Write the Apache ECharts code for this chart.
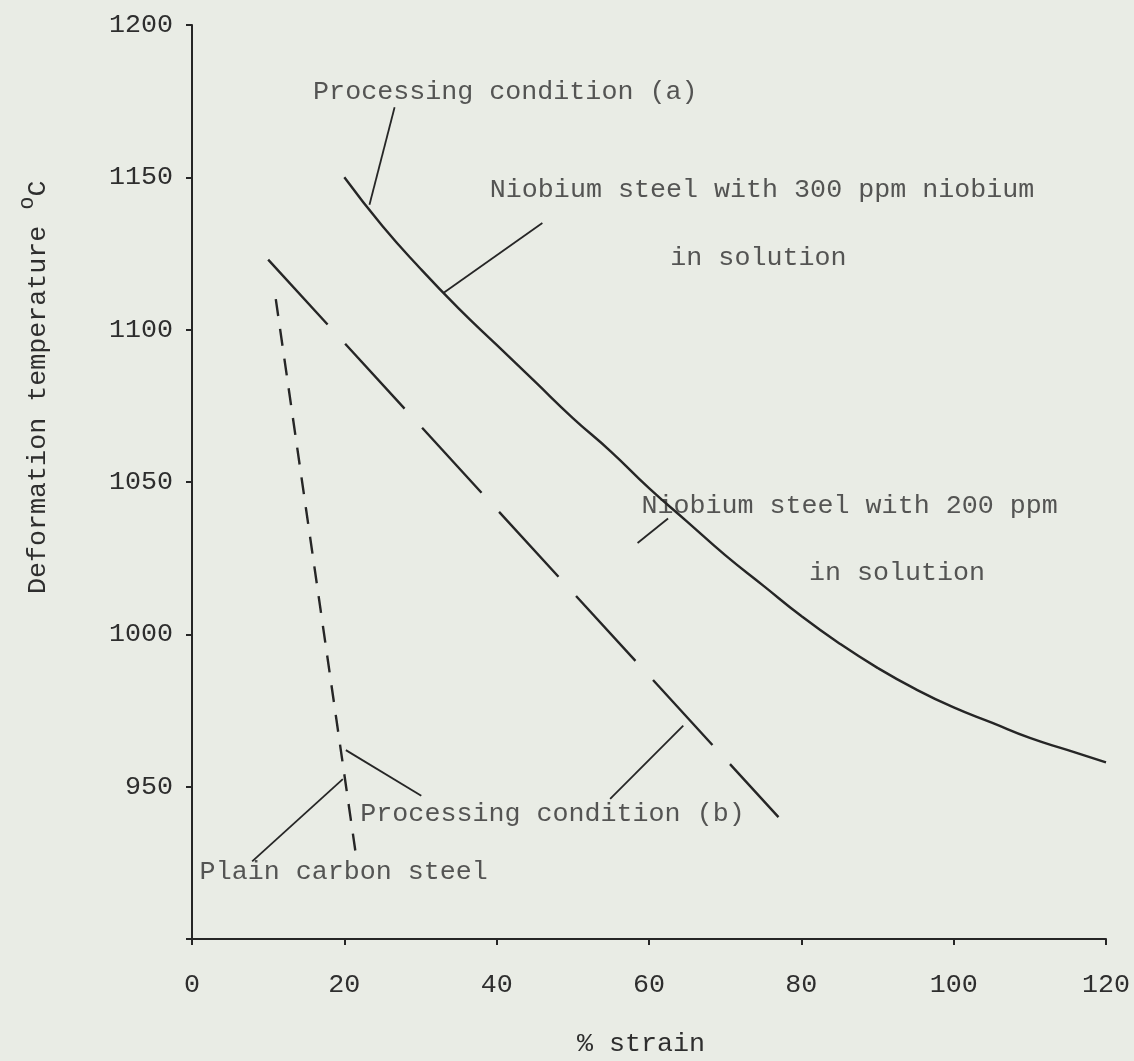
<!DOCTYPE html>
<html>
<head>
<meta charset="utf-8">
<script src="https://cdn.jsdelivr.net/npm/echarts@6/dist/echarts.min.js"></script>
<style>
  html, body { margin: 0; padding: 0; background: #e9ece5; }
  #chart { width: 1134px; height: 1061px; }
</style>
</head>
<body>
<div id="chart"></div>
<script>
// Axis ranges and ticks
const strainTicks = [0, 20, 40, 60, 80, 100, 120];
const tempTicks = [900, 950, 1000, 1050, 1100, 1150, 1200];

// Niobium steel, processing condition (a)
const nbSteelAStrain = [20, 25, 30, 35, 40, 45, 50, 55, 60, 65, 70, 75, 80, 85, 90, 95, 100, 105, 110, 115, 120];
const nbSteelATemp   = [1150, 1134, 1120, 1107, 1095, 1083, 1071, 1060, 1048, 1037, 1026, 1016, 1006, 997, 989, 982, 976, 971, 966, 962, 958];

// Niobium steel, processing condition (b)
const nbSteelBStrain = [10, 77];
const nbSteelBTemp   = [1123, 940];

// Plain carbon steel
const plainCarbonStrain = [11, 21.5];
const plainCarbonTemp   = [1110, 928];

// Annotation texts: [strain, temperature, text]
const noteTexts = [
  [15.9, 1178, 'Processing condition (a)'],
  [39.1, 1146, 'Niobium steel with 300 ppm niobium'],
  [62.8, 1123.5, 'in solution'],
  [59.0, 1042, 'Niobium steel with 200 ppm'],
  [81.0, 1020, 'in solution'],
  [22.1, 941, 'Processing condition (b)'],
  [1.0, 922, 'Plain carbon steel']
];

// Leader lines: [[strain, temp], [strain, temp]]
const leaderLines = [
  [[26.6, 1173], [23.3, 1141]],
  [[46.0, 1135], [33.0, 1112]],
  [[62.5, 1038], [58.5, 1030]],
  [[54.9, 946], [64.5, 970]],
  [[20.2, 962], [30.1, 947]],
  [[7.9, 925.5], [19.8, 952.5]]
];

const FONT = '"Liberation Mono", "DejaVu Sans Mono", monospace';
const INK = '#262626';
const TEXT = '#2e2e2e';
const FS = 26.7;

function pairs(xs, ys) { return xs.map((x, i) => [x, ys[i]]); }

const chart = echarts.init(document.getElementById('chart'), null, { renderer: 'canvas' });

chart.setOption({
  backgroundColor: '#e9ece5',
  animation: false,
  grid: { left: 192, right: 28, top: 25, bottom: 122 },
  xAxis: {
    type: 'value',
    min: strainTicks[0],
    max: strainTicks[strainTicks.length - 1],
    interval: strainTicks[1] - strainTicks[0],
    axisLine: { lineStyle: { color: INK, width: 2 } },
    axisTick: { show: true, length: 6, inside: false, lineStyle: { color: INK, width: 2 } },
    axisLabel: { color: TEXT, fontFamily: FONT, fontSize: FS, margin: 32 },
    splitLine: { show: false }
  },
  yAxis: {
    type: 'value',
    min: tempTicks[0],
    max: tempTicks[tempTicks.length - 1],
    interval: tempTicks[1] - tempTicks[0],
    axisLine: { show: true, lineStyle: { color: INK, width: 2 } },
    axisTick: { show: true, length: 6, lineStyle: { color: INK, width: 2 } },
    axisLabel: {
      color: TEXT, fontFamily: FONT, fontSize: FS, margin: 19,
      formatter: v => (v === tempTicks[0] ? '' : String(v))
    },
    splitLine: { show: false }
  },
  series: [
    {
      type: 'line',
      data: pairs(nbSteelAStrain, nbSteelATemp),
      smooth: true,
      showSymbol: false,
      lineStyle: { color: INK, width: 2.4 }
    },
    {
      type: 'line',
      data: pairs(nbSteelBStrain, nbSteelBTemp),
      showSymbol: false,
      lineStyle: { color: INK, width: 2.4, type: [88, 26] }
    },
    {
      type: 'line',
      data: pairs(plainCarbonStrain, plainCarbonTemp),
      showSymbol: false,
      lineStyle: { color: INK, width: 2.4, type: [17, 13] }
    },
    {
      type: 'lines',
      coordinateSystem: 'cartesian2d',
      data: leaderLines.map(l => ({ coords: l })),
      lineStyle: { color: INK, width: 1.8, opacity: 1 },
      silent: true
    },
    {
      type: 'scatter',
      symbolSize: 0,
      data: noteTexts,
      silent: true,
      label: {
        show: true,
        position: 'right',
        distance: 0,
        formatter: p => p.data[2],
        color: TEXT,
        fontFamily: FONT,
        fontSize: FS
      }
    }
  ],
  graphic: [
    {
      type: 'text',
      left: 649 - 72,
      top: 1030,
      style: { text: '% strain', fill: TEXT, font: FS + 'px ' + FONT }
    },
    {
      type: 'text',
      x: 38,
      y: 594,
      rotation: Math.PI / 2,
      style: {
        text: 'Deformation temperature {sup|o}C',
        fill: TEXT,
        font: FS + 'px ' + FONT,
        verticalAlign: 'middle',
        rich: {
          sup: { font: '22px ' + FONT, fill: TEXT, padding: [0, 0, 22, 0] }
        }
      }
    }
  ]
});
</script>
</body>
</html>
